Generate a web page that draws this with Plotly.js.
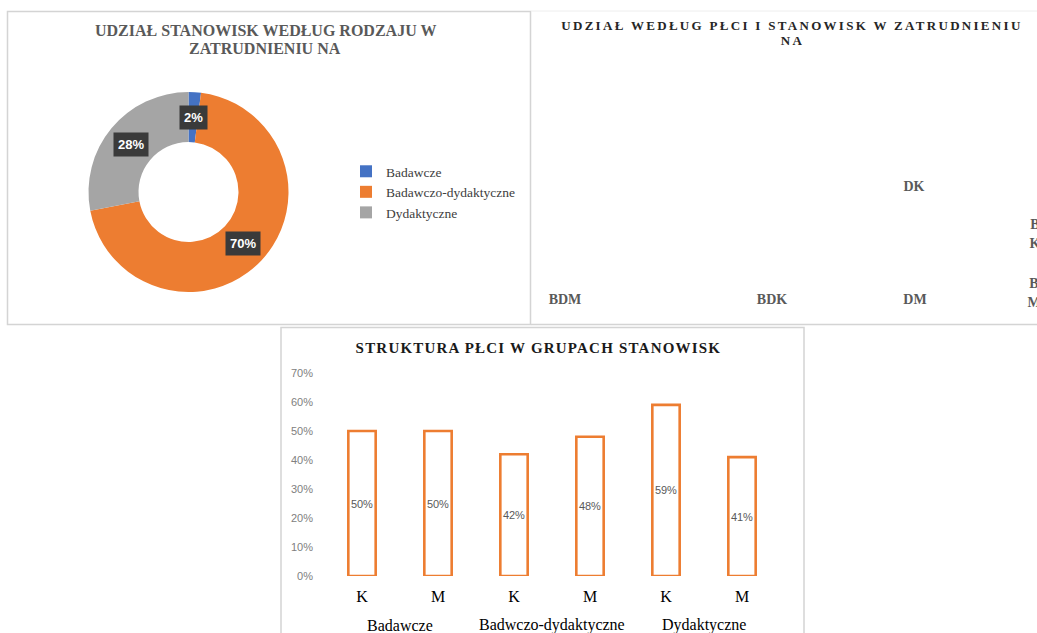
<!DOCTYPE html>
<html>
<head>
<meta charset="utf-8">
<script src="https://cdn.plot.ly/plotly-3.0.1.min.js"></script>
<style>
  html, body { margin: 0; padding: 0; background: #fff; }
  #wykres { width: 1037px; height: 633px; }
  /* spaced-out capitals in the two right-hand titles */
  .annotation[data-index="2"] text, .annotation[data-index="3"] text { letter-spacing: 2.3px; }
  .annotation[data-index="4"] text { letter-spacing: 1.2px; }
</style>
</head>
<body>
<div id="wykres"></div>
<script>
// Udział stanowisk według rodzaju w zatrudnieniu
const rodzaje = ['Badawcze', 'Badawczo-dydaktyczne', 'Dydaktyczne'];
const udzialy = [2, 70, 28];
const koloryRodzajow = ['#4472C4', '#ED7D31', '#A5A5A5'];

// Struktura płci w grupach stanowisk
const grupy = ['Badawcze', 'Badawcze', 'Badwczo-dydaktyczne', 'Badwczo-dydaktyczne', 'Dydaktyczne', 'Dydaktyczne'];
const plec = ['K', 'M', 'K', 'M', 'K', 'M'];
const strukturaPlci = [50, 50, 42, 48, 59, 41];

// Udział według płci i stanowisk – etykiety danych
const etykietyPlci = ['BDM', 'BDK', 'DM', 'DK', 'B<br>K', 'B<br>M'];
const plecX = [0.68, 4.82, 7.68, 7.66, 10.08, 10.06];
const plecY = [0, 0, 0, 11.3, 6.5, 0.6];

const W = 1037, H = 633;
const px = x => x / W;
const py = y => 1 - y / H;

// donut geometry (pixels)
const cx = 188.5, cy = 192, R = 100, dziura = 0.5;

// label boxes placed at the middle of each ring segment
const suma = udzialy.reduce((a, b) => a + b, 0);
let narast = 0;
const etykietyPierscienia = udzialy.map(v => {
  const srodek = (narast + v / 2) / suma * 2 * Math.PI;
  narast += v;
  const r = R * (1 + dziura) / 2;
  return {
    x: px(cx + r * Math.sin(srodek)),
    y: py(cy - r * Math.cos(srodek)),
    xref: 'paper', yref: 'paper', xanchor: 'center', yanchor: 'middle', showarrow: false,
    text: Math.round(v / suma * 100) + '%',
    font: { family: 'Liberation Sans', size: 13, color: '#ffffff', weight: 'bold' },
    bgcolor: '#3a3a3a', borderpad: 4
  };
});

const tytul = (text, x, y, size, color) => ({
  text, x: px(x), y: py(y), xref: 'paper', yref: 'paper',
  xanchor: 'center', yanchor: 'middle', showarrow: false,
  font: { family: 'Liberation Serif', size, color, weight: 'bold' }
});

// one category per bar, labelled K / M; group names centred under each pair
const kategorie = grupy.map((g, i) => g + ' ' + plec[i]);
const nazwyGrup = [...new Set(grupy)];
const etykietyGrup = nazwyGrup.map(g => {
  const idx = grupy.map((x, i) => x === g ? i : -1).filter(i => i >= 0);
  return {
    text: g, x: idx.reduce((a, b) => a + b, 0) / idx.length, xref: 'x',
    y: py(625), yref: 'paper', xanchor: 'center', yanchor: 'middle', showarrow: false,
    font: { family: 'Liberation Serif', size: 16, color: '#000000' }
  };
});

const dane = [
  {
    type: 'pie', labels: rodzaje, values: udzialy,
    marker: { colors: koloryRodzajow },
    hole: dziura, sort: false, direction: 'clockwise', rotation: 0,
    textinfo: 'none', hoverinfo: 'skip',
    domain: { x: [px(cx - R), px(cx + R)], y: [py(cy + R), py(cy - R)] }
  },
  {
    type: 'bar', x: kategorie, y: strukturaPlci,
    xaxis: 'x', yaxis: 'y',
    marker: { color: '#ffffff', line: { color: '#ED7D31', width: 2.6 } },
    text: strukturaPlci.map(v => v + '%'),
    textposition: 'inside', insidetextanchor: 'middle', constraintext: 'none', textangle: 0,
    textfont: { family: 'Liberation Sans', size: 11, color: '#595959' },
    showlegend: false, hoverinfo: 'skip'
  },
  {
    type: 'scatter', mode: 'text', x: plecX, y: plecY, text: etykietyPlci,
    xaxis: 'x2', yaxis: 'y2', textposition: 'middle center', cliponaxis: false,
    textfont: { family: 'Liberation Serif', size: 14, color: '#595959', weight: 'bold' },
    showlegend: false, hoverinfo: 'skip'
  }
];

const ramka = '#d4d4d4';
const uklad = {
  width: W, height: H,
  margin: { l: 0, r: 0, t: 0, b: 0 },
  paper_bgcolor: '#ffffff', plot_bgcolor: '#ffffff',
  bargap: 0.64,
  showlegend: true,
  legend: {
    x: px(346), xanchor: 'left', y: py(192), yanchor: 'middle',
    bgcolor: 'rgba(0,0,0,0)',
    font: { family: 'Liberation Serif', size: 13.5, color: '#404040' }
  },
  xaxis: {
    domain: [px(324), px(780)], anchor: 'y', type: 'category',
    tickvals: kategorie, ticktext: plec,
    showline: false, showgrid: false, zeroline: false, ticks: '', ticklabelstandoff: 9,
    tickfont: { family: 'Liberation Serif', size: 16, color: '#000000' }
  },
  yaxis: {
    domain: [py(576), py(373)], anchor: 'x', range: [0, 70], dtick: 10, ticksuffix: '%',
    showgrid: false, zeroline: false, showline: false, ticks: '', ticklabelstandoff: 10,
    tickfont: { family: 'Liberation Sans', size: 11, color: '#808080' }
  },
  xaxis2: { domain: [px(531), 1], anchor: 'y2', range: [0, 10.12], visible: false },
  yaxis2: { domain: [py(324), py(11)], anchor: 'x2', range: [-2.4, 28.9], visible: false },
  shapes: [
    { type: 'rect', xref: 'paper', yref: 'paper', x0: px(7.5), x1: px(530.5), y0: py(324.5), y1: py(11.5),
      line: { color: ramka, width: 1.5 } },
    { type: 'line', xref: 'paper', yref: 'paper', x0: px(531), x1: 1.02, y0: py(11), y1: py(11),
      line: { color: '#eeeeee', width: 1 } },
    { type: 'line', xref: 'paper', yref: 'paper', x0: px(531), x1: 1.02, y0: py(324.5), y1: py(324.5),
      line: { color: ramka, width: 1.5 } },
    { type: 'rect', xref: 'paper', yref: 'paper', x0: px(281), x1: px(804), y0: py(660), y1: py(327.5),
      line: { color: ramka, width: 1.5 } }
  ],
  annotations: [
    tytul('UDZIAŁ STANOWISK WEDŁUG RODZAJU W', 265, 31, 16, '#595959'),
    tytul('ZATRUDNIENIU NA', 265, 48, 16, '#595959'),
    tytul('UDZIAŁ WEDŁUG PŁCI I STANOWISK W ZATRUDNIENIU', 792, 25, 13, '#262626'),
    tytul('NA', 792, 40, 13, '#262626'),
    tytul('STRUKTURA PŁCI W GRUPACH STANOWISK', 538, 348, 15, '#1a1a1a'),
    ...etykietyPierscienia,
    ...etykietyGrup
  ]
};

Plotly.newPlot('wykres', dane, uklad, { staticPlot: true });
</script>
</body>
</html>
